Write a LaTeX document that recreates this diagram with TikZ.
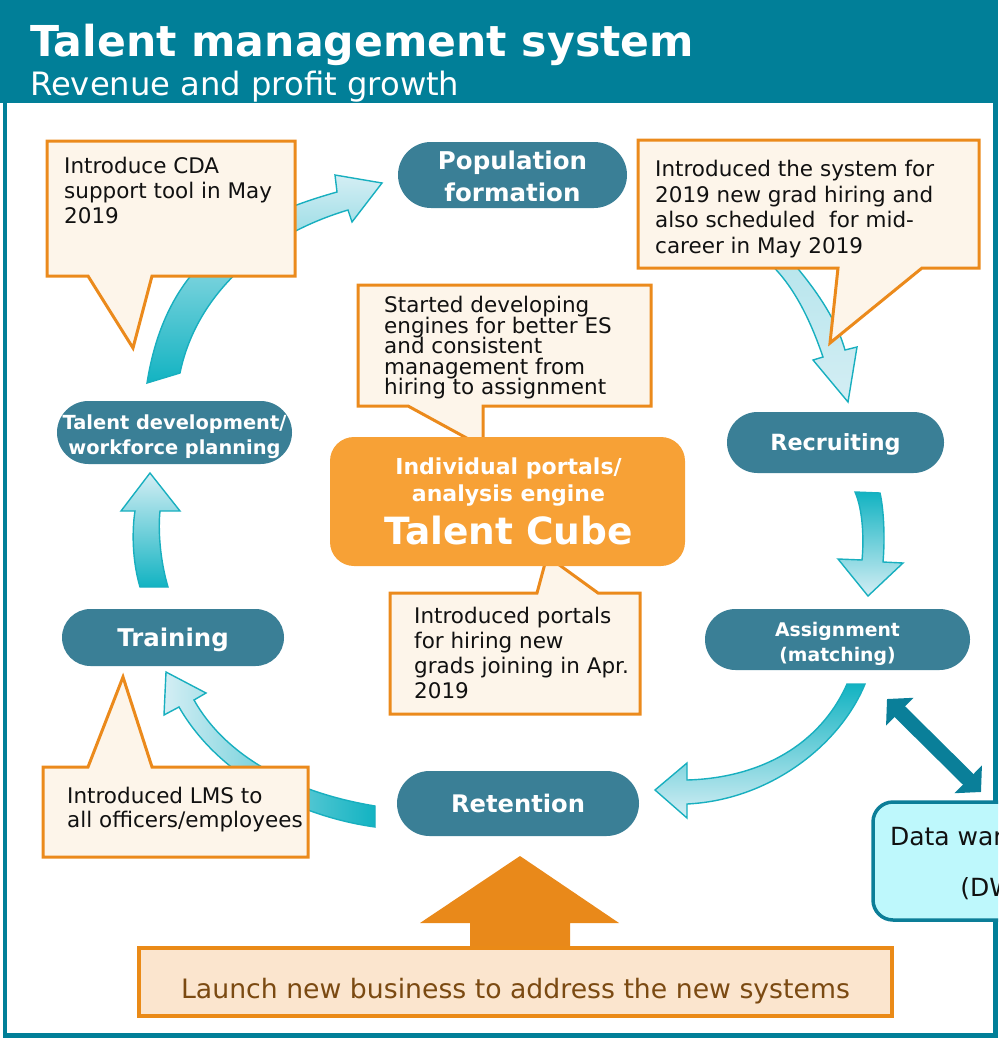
\documentclass[tikz,border=0pt]{standalone}
\usepackage{fontspec}
\setmainfont{DejaVu Sans}
\usetikzlibrary{arrows.meta}
\newcommand\mytightlines{\lineskiplimit=-50pt\relax}
\definecolor{hdr}{HTML}{017F98}
\definecolor{pillc}{HTML}{3A7F96}
\definecolor{cubec}{HTML}{F7A136}
\definecolor{calline}{HTML}{EB8A1C}
\definecolor{calfill}{HTML}{FDF5EA}
\definecolor{botfill}{HTML}{FBE5CE}
\definecolor{botline}{HTML}{EA8A17}
\definecolor{bottext}{HTML}{7B4A12}
\definecolor{uparrowc}{HTML}{E9891A}
\definecolor{dwfill}{HTML}{BEF8FC}
\definecolor{dwline}{HTML}{0C7E98}
\definecolor{dblarrow}{HTML}{0A7F99}
\definecolor{arrline}{HTML}{18AFBF}
\definecolor{arrdark}{HTML}{12B3C2}
\definecolor{arrlight}{HTML}{D4EEF4}
\definecolor{textc}{HTML}{111111}
\tikzset{
  pill/.style={fill=pillc, inner sep=0pt},
  pilltext/.style={text=white, align=center, inner sep=0pt},
  callout/.style={draw=calline, fill=calfill, line width=3pt, line join=miter},
  ctext/.style={anchor=north west, inner sep=0pt, align=left, text=textc},
  blk/.style={draw=arrline, line width=1.4pt, line join=miter},
}
\begin{document}
\begin{tikzpicture}[x=1pt,y=-1pt]
\useasboundingbox (0,0) rectangle (998,1038);
\clip (0,0) rectangle (998,1038);
% header and frame
\fill[hdr] (0,0) rectangle (998,103);
\draw[hdr, line width=4.5pt] (5,2) rectangle (995.5,1035.5);
\node[anchor=base west, inner sep=0pt, text=white, font=\bfseries\fontsize{42.6}{50}\selectfont] (title) at (30,57) {Talent management system};
\node[anchor=base west, inner sep=0pt, text=white, font=\fontsize{32.2}{38}\selectfont] (subtitle) at (30,96) {Revenue and profit growth};

% curved block arrows
\shadedraw[blk, top color=arrlight, bottom color=arrdark]
  (147,383) .. controls (165,270) and (230,222) .. (337,192) -- (335,175) -- (382,183) -- (352,222) -- (348,210)
  .. controls (255,238) and (195,300) .. (180,373) -- cycle;
\shadedraw[blk, top color=arrlight!85!arrdark, bottom color=arrlight]
  (766,260) .. controls (795,285) and (812,325) .. (823,357) -- (813,360) -- (848,402) -- (857,347) -- (845,350)
  .. controls (835,315) and (812,285) .. (789,258) -- cycle;
\shadedraw[blk, top color=arrdark, bottom color=arrlight]
  (855,492) .. controls (863,510) and (864,540) .. (862,560) -- (838,559) -- (868,596) -- (903,563) -- (883,562)
  .. controls (885,540) and (884,510) .. (880,493) -- cycle;
\shadedraw[blk, top color=arrdark, middle color=arrlight, bottom color=arrlight]
  (847,684) .. controls (820,745) and (760,778) .. (687,780) -- (687,763) -- (655,790) -- (687,818) -- (687,804)
  .. controls (770,800) and (840,745) .. (865,684) -- cycle;
\shadedraw[blk, left color=arrlight, middle color=arrlight, right color=arrdark]
  (375,806) .. controls (290,792) and (225,755) .. (194,700) -- (206,693) -- (166,672) -- (164,715) -- (179,707)
  .. controls (215,770) and (290,815) .. (375,827) -- cycle;
\shadedraw[blk, top color=arrlight, bottom color=arrdark]
  (140,587) .. controls (132,560) and (132,530) .. (135,511) -- (121,511) -- (150,473) -- (180,511) -- (160,511)
  .. controls (158,530) and (160,560) .. (168,587) -- cycle;

% callouts
\draw[callout] (47,141) -- (295,141) -- (295,276) -- (152,276) -- (133,348) -- (88,276) -- (47,276) -- cycle;
\draw[callout] (638,140) -- (979,140) -- (979,268) -- (922,268) -- (830,343) -- (838,268) -- (638,268) -- cycle;
\draw[callout] (358,285) -- (651,285) -- (651,406) -- (483,406) -- (483,447) -- (408,406) -- (358,406) -- cycle;
\draw[callout] (390,593) -- (537,593) -- (547,556) -- (598,593) -- (640,593) -- (640,714) -- (390,714) -- cycle;
\draw[callout] (43,767) -- (88,767) -- (123,677) -- (152,767) -- (308,767) -- (308,857) -- (43,857) -- cycle;

% stage pills
\node[pill, minimum width=229pt, minimum height=66pt, rounded corners=33pt] (pop) at (512.5,175) {};
\node[pilltext, font=\bfseries\fontsize{24.5}{32}\selectfont] (popT) at ([yshift=-1pt]pop.center) {Population\\formation};
\node[pill, minimum width=217pt, minimum height=61pt, rounded corners=30.5pt] (rec) at (835.5,442.5) {};
\node[pilltext, font=\bfseries\fontsize{22.3}{27}\selectfont] (recT) at ([yshift=-2pt]rec.center) {Recruiting};
\node[pill, minimum width=265pt, minimum height=61pt, rounded corners=30.5pt] (asg) at (837.5,639.5) {};
\node[pilltext, font=\bfseries\fontsize{18.8}{25}\selectfont] (asgT) at ([yshift=-4pt]asg.center) {Assignment\\(matching)};
\node[pill, minimum width=242pt, minimum height=65pt, rounded corners=32.5pt] (ret) at (518,803.5) {};
\node[pilltext, font=\bfseries\fontsize{24.2}{29}\selectfont] (retT) at (ret.center) {Retention};
\node[pill, minimum width=222pt, minimum height=57pt, rounded corners=28.5pt] (trn) at (173,637.5) {};
\node[pilltext, font=\bfseries\fontsize{24.4}{29}\selectfont] (trnT) at ([yshift=-2pt]trn.center) {Training};
\node[pill, minimum width=235pt, minimum height=63pt, rounded corners=31.5pt] (dev) at (174.5,432.5) {};
\node[pilltext, font=\bfseries\fontsize{19.4}{25}\selectfont] (devT) at ([yshift=-4pt]dev.center) {Talent development/\\workforce planning};

% central engine
\node[fill=cubec, inner sep=0pt, minimum width=355pt, minimum height=129pt, rounded corners=24pt] (cube) at (507.5,501.5) {};
\node[pilltext, font=\bfseries\fontsize{22}{27}\selectfont] (cubeT) at ([xshift=1pt]cube.center)
  {Individual portals/\\analysis engine\\[8pt]\fontsize{37.5}{40}\selectfont Talent Cube};

% callout texts
\node[ctext, font=\fontsize{21.5}{25}\selectfont] (tA) at (64,157) {Introduce CDA\\support tool in May\\2019};
\node[ctext, font=\fontsize{21.5}{25.5}\selectfont] (tB) at (655,160) {Introduced the system for\\2019 new grad hiring and\\also scheduled\ \ for mid-\\career in May 2019};
\node[ctext, font=\fontsize{21.5}{20.5}\selectfont\mytightlines] (tC) at (384,296) {Started developing\\engines for better ES\\and consistent\\management from\\hiring to assignment};
\node[ctext, font=\fontsize{21.5}{25}\selectfont] (tD) at (414,607) {Introduced portals\\for hiring new\\grads joining in Apr.\\2019};
\node[ctext, font=\fontsize{21.5}{24}\selectfont] (tE) at (67,787) {Introduced LMS to\\all officers/employees};

% bottom driver
\fill[uparrowc] (470,950) -- (470,923) -- (420,923) -- (520,856) -- (619,923) -- (570,923) -- (570,950) -- cycle;
\node[draw=botline, fill=botfill, line width=4pt, inner sep=0pt, minimum width=753pt, minimum height=68pt, text height=38pt, text depth=6pt, text=bottext, font=\fontsize{26.7}{32}\selectfont] (launch) at (515.5,982) {Launch new business to address the new systems};

% data warehouse
\node[draw=dwline, fill=dwfill, line width=3.5pt, rounded corners=20pt, inner sep=0pt, minimum width=238pt, minimum height=118pt] (dw) at (992,861) {};
\node[align=center, inner sep=0pt, text=textc, font=\fontsize{25}{51}\selectfont] (dwT) at ([yshift=-2pt]dw.center) {Data warehouse\\(DW)};
\coordinate (dwA) at (887,699);
\coordinate (dwB) at (981,792);
\draw[dblarrow, line width=15pt, {Triangle[length=18pt,width=38pt]}-{Triangle[length=18pt,width=38pt]}] (dwA) -- (dwB);
\end{tikzpicture}
\end{document}
